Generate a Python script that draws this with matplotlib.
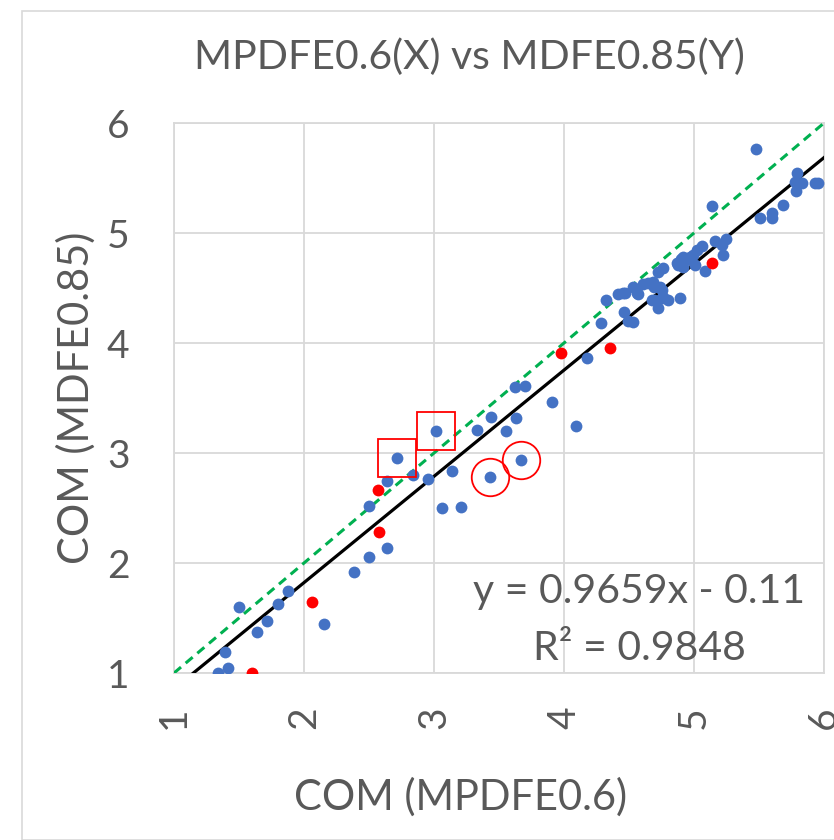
import matplotlib
matplotlib.use("Agg")
import matplotlib.pyplot as plt
from matplotlib.patches import Rectangle
import numpy as np

plt.rcParams['font.family'] = ['Lato', 'DejaVu Sans']

# ---- data ----
blue_x = [1.336, 1.413, 1.39, 1.50, 1.636, 1.713, 1.80, 1.88, 2.15, 2.387, 2.50, 2.636,
          2.50, 2.636, 2.713, 2.838, 2.95, 3.015, 3.06, 3.14, 3.21, 3.33, 3.43, 3.44,
          3.556, 3.633, 3.626, 3.70, 3.667, 3.905, 4.095, 4.175, 4.287, 4.32,
          4.418, 4.469, 4.464, 4.495, 4.533, 4.533, 4.571, 4.610, 4.649, 4.687, 4.725,
          4.764, 4.675, 4.725, 4.764, 4.802, 4.738, 4.867, 4.892, 4.692, 4.559, 4.456,
          4.75, 4.75, 4.692,
          5.477, 5.141, 5.790, 5.777, 5.833, 5.931, 5.956, 5.782, 5.687, 5.598, 5.602,
          5.510, 5.246, 5.213, 5.162, 5.221, 5.085, 5.059, 5.021, 4.995, 5.008, 4.918,
          4.892, 4.879, 4.918, 4.95, 4.97, 4.90]
blue_y = [1.00, 1.05, 1.19, 1.60, 1.37, 1.47, 1.63, 1.75, 1.445, 1.92, 2.055, 2.14,
          2.52, 2.75, 2.957, 2.797, 2.76, 3.20, 2.497, 2.84, 2.51, 3.21, 2.785, 3.33,
          3.197, 3.315, 3.597, 3.61, 2.934, 3.464, 3.25, 3.86, 4.18, 4.39,
          4.445, 4.457, 4.285, 4.203, 4.194, 4.506, 4.445, 4.536, 4.543, 4.557, 4.648,
          4.679, 4.391, 4.315, 4.421, 4.391, 4.512, 4.725, 4.406, 4.512, 4.452, 4.452,
          4.482, 4.406, 4.391,
          5.761, 5.243, 5.543, 5.466, 5.452, 5.457, 5.452, 5.385, 5.255, 5.179, 5.134,
          5.136, 4.943, 4.891, 4.927, 4.803, 4.657, 4.885, 4.845, 4.80, 4.709, 4.785,
          4.739, 4.709, 4.694, 4.76, 4.78, 4.76]

red_x = [1.60, 2.064, 2.577, 2.567, 3.98, 4.354, 5.14]
red_y = [1.00, 1.645, 2.28, 2.667, 3.91, 3.955, 4.725]

square_x = [2.713, 3.015]
square_y = [2.957, 3.20]
circle_x = [3.43, 3.667]
circle_y = [2.785, 2.934]

slope = 0.9659
intercept = -0.11
r2 = 0.9848

ticks = [1, 2, 3, 4, 5, 6]
title = "MPDFE0.6(X) vs MDFE0.85(Y)"
xlabel = "COM (MPDFE0.6)"
ylabel = "COM (MDFE0.85)"

# ---- figure ----
W, H = 834, 840
fig = plt.figure(figsize=(W / 100, H / 100), dpi=100)
fig.patch.set_facecolor('white')

# chart border
fig.patches.append(Rectangle((22 / W, 0), 1.2, 1 - 11 / H, transform=fig.transFigure,
                             fill=False, edgecolor='#D9D9D9', linewidth=1.2))

ax = fig.add_axes([174 / W, 1 - 673 / H, 650 / W, 550 / H])
ax.set_xlim(1, 6)
ax.set_ylim(1, 6)
ax.set_xticks(ticks)
ax.set_yticks(ticks)
ax.set_xticklabels([str(t) for t in ticks], rotation=90)
ax.grid(True, color='#D9D9D9', linewidth=1.3)
ax.set_axisbelow(True)
for s in ax.spines.values():
    s.set_color('#D9D9D9')
    s.set_linewidth(1.3)
gray = '#595959'
ax.tick_params(axis='both', length=0, labelsize=28, colors=gray)
ax.tick_params(axis='x', pad=24)
ax.tick_params(axis='y', pad=32)

# y = x reference (dashed green)
ax.plot([1, 6], [1, 6], color='#00B050', linestyle=(0, (3, 2)), linewidth=2.2, zorder=3)
# trend line
x0 = (ticks[0] - intercept) / slope
tx = np.array([x0, ticks[-1]])
ax.plot(tx, slope * tx + intercept, color='black', linewidth=2.3, zorder=3)

ax.plot(blue_x, blue_y, 'o', color='#4472C4', markersize=8.5, markeredgewidth=0, zorder=4)
ax.plot(red_x, red_y, 'o', color='#FF0000', markersize=8.5, markeredgewidth=0, zorder=5)

ax.plot(square_x, square_y, 's', markerfacecolor='none', markeredgecolor='#FF0000',
        markersize=27, markeredgewidth=1.3, zorder=6, clip_on=False)
ax.plot(circle_x, circle_y, 'o', markerfacecolor='none', markeredgecolor='#FF0000',
        markersize=27, markeredgewidth=1.3, zorder=6, clip_on=False)

ax.text(4.58, 1.74, f"y = {slope}x - {abs(intercept)}", fontsize=29.5, color=gray,
        ha='center', va='center', zorder=7)
ax.text(4.58, 1.22, f"R² = {r2}", fontsize=29.5, color=gray,
        ha='center', va='center', zorder=7)

fig.text(469 / W, 1 - 57 / H, title, fontsize=29.5, color=gray, ha='center', va='center')
fig.text(461 / W, 1 - 797 / H, xlabel, fontsize=30, color=gray, ha='center', va='center')
fig.text(76 / W, 1 - 398 / H, ylabel, fontsize=30, color=gray, ha='center', va='center',
         rotation=90)

fig.savefig("out.png", dpi=100, facecolor='white')
